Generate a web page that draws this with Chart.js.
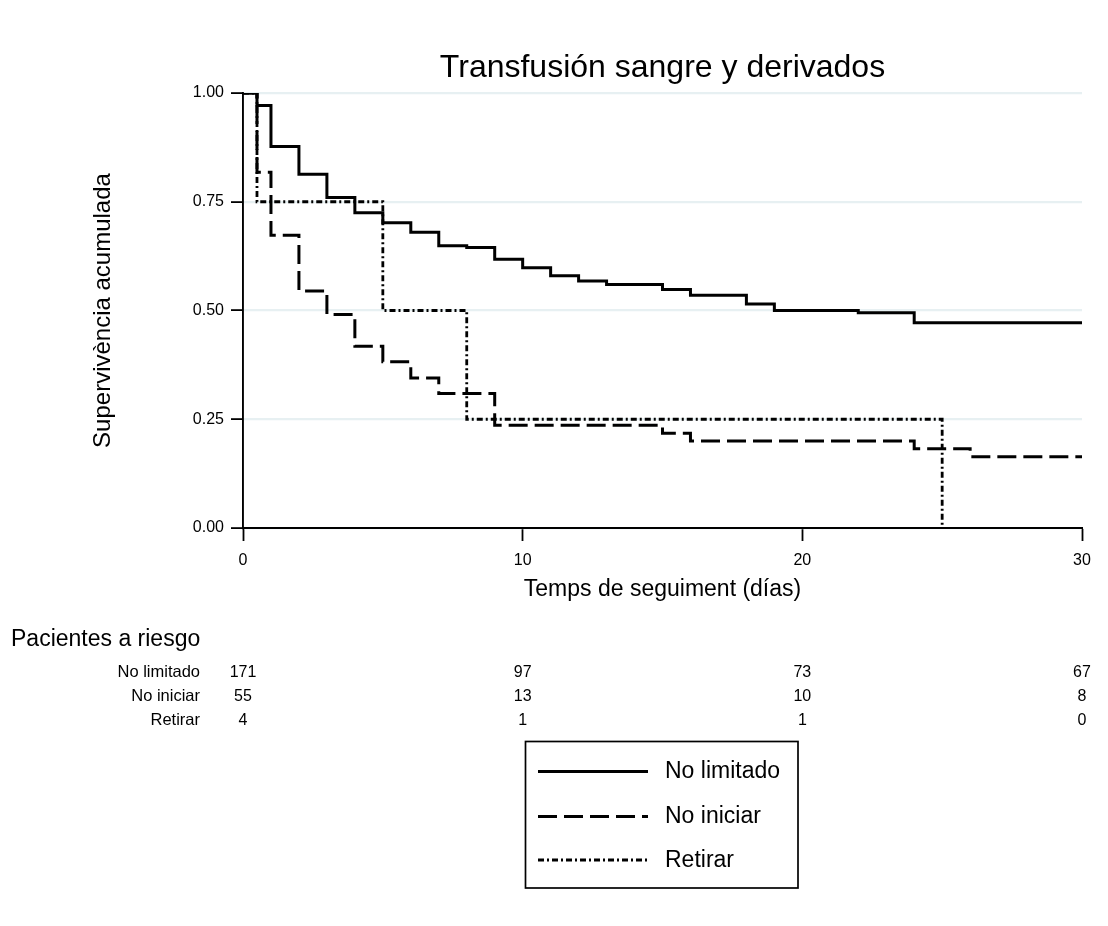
<!DOCTYPE html>
<html>
<head>
<meta charset="utf-8">
<title>Transfusión sangre y derivados</title>
<script src="https://cdn.jsdelivr.net/npm/chart.js@4/dist/chart.umd.min.js"></script>
<style>
  html, body { margin: 0; padding: 0; background: #ffffff; }
  #wrap { width: 1108px; height: 926px; position: relative; }
</style>
</head>
<body>
<div id="wrap"><canvas id="km"></canvas></div>
<script>
// Kaplan-Meier estimates: day of each step and survival from that day on
const daysNoLimitado = [0, 0.5, 1, 2, 3, 4, 5, 6, 7, 8, 9, 10, 11, 12, 13, 15, 16, 18, 19, 22, 24, 30];
const survNoLimitado = [1.000, 0.971, 0.877, 0.813, 0.760, 0.725, 0.702, 0.680, 0.649, 0.645, 0.618, 0.598, 0.580, 0.568, 0.560, 0.548, 0.535, 0.515, 0.500, 0.495, 0.472, 0.472];

const daysNoIniciar = [0, 0.5, 1, 2, 3, 4, 5, 6, 7, 9, 15, 16, 24, 26, 30];
const survNoIniciar = [1.000, 0.818, 0.673, 0.545, 0.491, 0.418, 0.382, 0.345, 0.309, 0.236, 0.218, 0.200, 0.182, 0.164, 0.164];

const daysRetirar = [0, 0.5, 5, 8, 25];
const survRetirar = [1.00, 0.75, 0.50, 0.25, 0.00];

// Number at risk table
const riskDays = [0, 10, 20, 30];
const groupNames = ['No limitado', 'No iniciar', 'Retirar'];
const riskNoLimitado = [171, 97, 73, 67];
const riskNoIniciar = [55, 13, 10, 8];
const riskRetirar = [4, 1, 1, 0];

const yTicks = [0, 0.25, 0.5, 0.75, 1];
const xTicks = [0, 10, 20, 30];

const FONT = "'Liberation Sans', Arial, Helvetica, sans-serif";

function toPoints(days, surv) {
  return days.map((d, i) => ({ x: d, y: surv[i] }));
}

// Table of subjects at risk below the axis, and the boxed key
const riskAndKey = {
  id: 'riskAndKey',
  afterDraw(chart) {
    const ctx = chart.ctx;
    const xs = chart.scales.x;
    ctx.save();
    ctx.fillStyle = '#000';
    ctx.textBaseline = 'alphabetic';

    ctx.font = '23px ' + FONT;
    ctx.textAlign = 'left';
    ctx.fillText('Pacientes a riesgo', 11, 646);

    const rows = [riskNoLimitado, riskNoIniciar, riskRetirar];
    const baselines = [677, 701, 724.5];
    rows.forEach((vals, r) => {
      ctx.font = '16.5px ' + FONT;
      ctx.textAlign = 'right';
      ctx.fillText(groupNames[r], 200, baselines[r]);
      ctx.font = '16px ' + FONT;
      ctx.textAlign = 'center';
      riskDays.forEach((d, c) => {
        ctx.fillText(String(vals[c]), xs.getPixelForValue(d), baselines[r]);
      });
    });

    // key box
    const box = { x: 525.5, y: 741.5, w: 272.5, h: 146.5 };
    ctx.lineWidth = 1.7;
    ctx.strokeStyle = '#000';
    ctx.setLineDash([]);
    ctx.strokeRect(box.x, box.y, box.w, box.h);

    const keyY = [771.5, 816.5, 860];
    chart.data.datasets.forEach((ds, i) => {
      ctx.save();
      ctx.strokeStyle = ds.borderColor;
      ctx.lineWidth = ds.borderWidth;
      ctx.setLineDash(ds.borderDash || []);
      ctx.lineCap = 'butt';
      ctx.beginPath();
      ctx.moveTo(538, keyY[i]);
      ctx.lineTo(648, keyY[i]);
      ctx.stroke();
      ctx.restore();
      ctx.font = '23px ' + FONT;
      ctx.textAlign = 'left';
      ctx.textBaseline = 'middle';
      ctx.fillStyle = '#000';
      ctx.fillText(ds.label, 665, keyY[i] + 0.5);
    });
    ctx.restore();
  }
};

new Chart(document.getElementById('km'), {
  type: 'line',
  data: {
    datasets: [
      {
        label: 'No limitado',
        data: toPoints(daysNoLimitado, survNoLimitado),
        borderColor: '#000', borderWidth: 3, borderDash: [],
        stepped: 'before', pointRadius: 0, fill: false
      },
      {
        label: 'No iniciar',
        data: toPoints(daysNoIniciar, survNoIniciar),
        borderColor: '#000', borderWidth: 3, borderDash: [19, 7],
        stepped: 'before', pointRadius: 0, fill: false
      },
      {
        label: 'Retirar',
        data: toPoints(daysRetirar, survRetirar),
        borderColor: '#000', borderWidth: 2.8, borderDash: [6, 3, 2, 3],
        stepped: 'before', pointRadius: 0, fill: false
      }
    ]
  },
  options: {
    responsive: true,
    maintainAspectRatio: false,
    animation: false,
    devicePixelRatio: 1,
    layout: { padding: { left: 0, right: 26, top: 0, bottom: 318 } },
    plugins: {
      legend: { display: false },
      tooltip: { enabled: false },
      title: {
        display: true,
        fullSize: false,
        text: 'Transfusión sangre y derivados',
        color: '#000',
        font: { family: FONT, size: 32, weight: 'normal' },
        padding: { top: 49, bottom: 5.6 }
      }
    },
    scales: {
      x: {
        type: 'linear',
        min: 0, max: 30,
        afterBuildTicks(scale) { scale.ticks = xTicks.map(v => ({ value: v })); },
        afterFit(scale) { scale.height = 80; },
        border: { display: true, color: '#000', width: 1.9 },
        grid: { display: true, drawOnChartArea: false, drawTicks: true, tickLength: 13, tickColor: '#000', tickWidth: 1.8 },
        ticks: { color: '#000', font: { family: FONT, size: 16 }, padding: 10, maxRotation: 0, autoSkip: false },
        title: {
          display: true, text: 'Temps de seguiment (días)', color: '#000',
          font: { family: FONT, size: 23 }, padding: { top: 0, bottom: 5 }
        }
      },
      y: {
        type: 'linear',
        min: 0, max: 1,
        afterBuildTicks(scale) { scale.ticks = yTicks.map(v => ({ value: v })); },
        afterFit(scale) { scale.width = 243; },
        border: { display: true, color: '#000', width: 1.9 },
        grid: { display: true, color: 'rgb(231,240,242)', lineWidth: 2.2, drawTicks: true, tickLength: 12, tickColor: '#000', tickWidth: 1.8 },
        ticks: { color: '#000', font: { family: FONT, size: 16 }, padding: 7, autoSkip: false,
                 callback: v => Number(v).toFixed(2) },
        title: {
          display: true, text: 'Supervivència acumulada', color: '#000',
          font: { family: FONT, size: 24 }, padding: { top: 89, bottom: 0 }
        }
      }
    }
  },
  plugins: [riskAndKey]
});
</script>
</body>
</html>
